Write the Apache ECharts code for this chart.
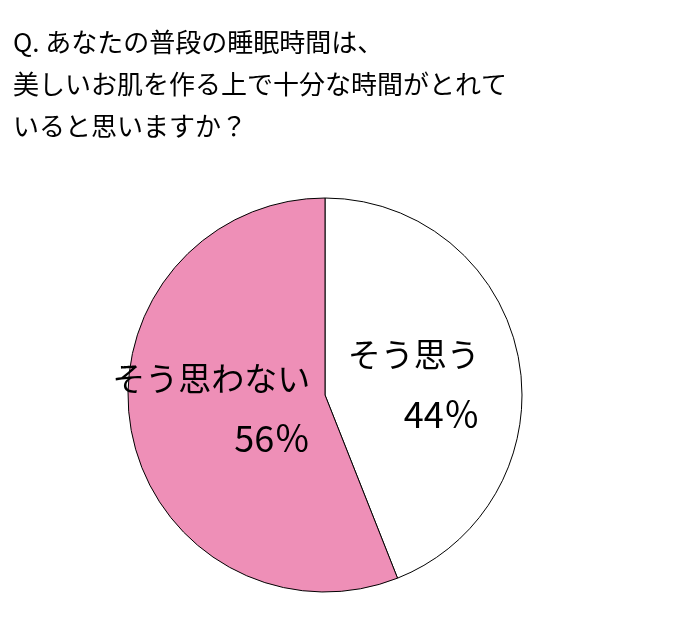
<!DOCTYPE html>
<html>
<head>
<meta charset="utf-8">
<script src="https://cdn.jsdelivr.net/npm/echarts@6/dist/echarts.min.js"></script>
<style>
  html, body { margin: 0; padding: 0; background: #fff; }
  #chart { width: 673px; height: 620px; }
</style>
</head>
<body>
<div id="chart"></div>
<script>
// Survey answers and their shares (%)
const answers = ['そう思う', 'そう思わない'];
const shares = [44, 56];
const sliceColors = ['#ffffff', '#ee8fb7'];
const questionLines = [
  'Q. あなたの普段の睡眠時間は、',
  '美しいお肌を作る上で十分な時間がとれて',
  'いると思いますか？'
];

const FONT = '"Noto Sans CJK JP", "Noto Sans", sans-serif';
const labelOffsets = [[-11, 8], [-14, -6]];

const chart = echarts.init(document.getElementById('chart'), null, { renderer: 'canvas' });

chart.setOption({
  backgroundColor: '#ffffff',
  animation: false,
  title: {
    text: questionLines.join('\n'),
    left: 13,
    top: 21,
    padding: 0,
    textStyle: {
      fontFamily: FONT,
      fontSize: 26,
      fontWeight: 'normal',
      color: '#000',
      lineHeight: 42
    }
  },
  series: [{
    type: 'pie',
    center: [325, 395],
    radius: [0, 197],
    startAngle: 90,
    clockwise: true,
    silent: true,
    avoidLabelOverlap: false,
    labelLine: { show: false },
    itemStyle: { borderColor: '#000', borderWidth: 1 },
    label: {
      show: true,
      position: 'inside',
      formatter: '{n|{b}}\n{p|{c}％}',
      rich: {
        n: { fontFamily: FONT, fontSize: 33, color: '#000', lineHeight: 60, align: 'right' },
        p: { fontFamily: FONT, fontSize: 36, color: '#000', lineHeight: 60, align: 'right' }
      }
    },
    data: answers.map((name, i) => ({
      name,
      value: shares[i],
      itemStyle: { color: sliceColors[i] },
      label: { offset: labelOffsets[i] }
    }))
  }]
});
</script>
</body>
</html>
